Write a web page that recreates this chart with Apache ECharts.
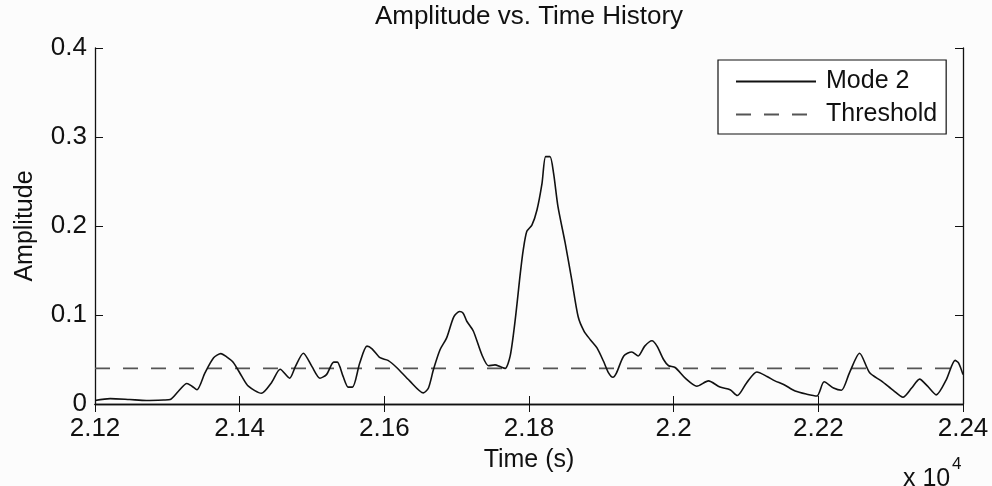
<!DOCTYPE html>
<html>
<head>
<meta charset="utf-8">
<script src="https://cdn.jsdelivr.net/npm/echarts@6/dist/echarts.min.js"></script>
<style>
  html, body { margin: 0; padding: 0; background: #fcfcfc; }
  #chart { width: 992px; height: 486px; }
</style>
</head>
<body>
<div id="chart"></div>
<script>
// ---- data (time in seconds, amplitude) ----
const timeSec = [
  21200, 21221, 21248, 21271, 21295, 21304, 21315, 21327, 21334, 21341,
  21352, 21364, 21374, 21382, 21391, 21403, 21412, 21430, 21444, 21456,
  21469, 21477, 21488, 21500, 21511, 21520, 21530, 21535, 21543, 21550,
  21556, 21566, 21576, 21583, 21594, 21605, 21617, 21635, 21654, 21661,
  21668, 21677, 21686, 21696, 21704, 21709, 21714, 21723, 21735, 21744,
  21753, 21760, 21767, 21774, 21781, 21788, 21792, 21797, 21804, 21811,
  21818, 21823, 21829, 21834, 21840, 21850, 21859, 21868, 21876, 21885,
  21894, 21903, 21910, 21916, 21921, 21931, 21942, 21951, 21960, 21970,
  21977, 21986, 21993, 22002, 22016, 22032, 22048, 22064, 22078, 22088,
  22101, 22115, 22129, 22140, 22152, 22168, 22184, 22198, 22208, 22221,
  22232, 22243, 22257, 22271, 22287, 22304, 22317, 22329, 22340, 22351,
  22363, 22377, 22389, 22394, 22400
];
const mode2 = [
  0.004, 0.006, 0.005, 0.004, 0.0045, 0.005, 0.014, 0.023, 0.020, 0.016,
  0.035, 0.052, 0.0566, 0.053, 0.047, 0.031, 0.020, 0.012, 0.024, 0.039,
  0.029, 0.042, 0.057, 0.042, 0.029, 0.033, 0.047, 0.047, 0.031, 0.019,
  0.019, 0.046, 0.065, 0.062, 0.052, 0.049, 0.041, 0.026, 0.0125, 0.018,
  0.039, 0.061, 0.074, 0.098, 0.104, 0.102, 0.093, 0.082, 0.055, 0.043,
  0.044, 0.042, 0.040, 0.054, 0.095, 0.147, 0.173, 0.194, 0.201, 0.218,
  0.248, 0.278, 0.278, 0.259, 0.222, 0.181, 0.140, 0.098, 0.082, 0.072,
  0.063, 0.048, 0.035, 0.030, 0.035, 0.054, 0.0585, 0.054, 0.065, 0.071,
  0.065, 0.050, 0.043, 0.041, 0.029, 0.020, 0.026, 0.019, 0.016, 0.0095,
  0.024, 0.036, 0.031, 0.026, 0.022, 0.0145, 0.011, 0.009, 0.025, 0.018,
  0.0155, 0.035, 0.057, 0.035, 0.026, 0.015, 0.0076, 0.018, 0.028, 0.020,
  0.0103, 0.0275, 0.049, 0.046, 0.033
];
const thresholdTime = [21200, 22400];
const thresholdValue = [0.04, 0.04];
const xTickLabels = ['2.12', '2.14', '2.16', '2.18', '2.2', '2.22', '2.24'];
const yTickLabels = ['0', '0.1', '0.2', '0.3', '0.4'];

const X_MIN = 21200, X_MAX = 22400, X_STEP = 200;
const Y_MIN = 0, Y_MAX = 0.4, Y_STEP = 0.1;

const FONT = 'Liberation Sans';
const INK = '#111';

const chart = echarts.init(document.getElementById('chart'), null, { renderer: 'canvas' });

function xLabel(v) {
  const i = Math.round((v - X_MIN) / X_STEP);
  return xTickLabels[i] !== undefined ? xTickLabels[i] : '';
}
function yLabel(v) {
  const i = Math.round((v - Y_MIN) / Y_STEP);
  return yTickLabels[i] !== undefined ? yTickLabels[i] : '';
}

const axisLineStyle = { color: INK, width: 1.3 };
const tickCfg = { show: true, inside: true, length: 8, lineStyle: { color: INK, width: 1 } };

const option = {
  backgroundColor: '#fcfcfc',
  animation: false,
  textStyle: { fontFamily: FONT, color: INK },
  title: {
    text: 'Amplitude vs. Time History',
    left: 529,
    top: 4,
    padding: 0,
    textAlign: 'center',
    textStyle: { fontFamily: FONT, fontSize: 26, fontWeight: 'normal', color: INK }
  },
  grid: { left: 95, right: 29, top: 48, bottom: 82, containLabel: false },
  legend: {
    orient: 'vertical',
    left: 718,
    top: 60,
    padding: [9, 9, 7, 17],
    itemWidth: 80,
    itemHeight: 25,
    itemGap: 8,
    borderColor: INK,
    borderWidth: 1.2,
    backgroundColor: '#fff',
    itemStyle: { color: 'rgba(0,0,0,0)', borderWidth: 0, opacity: 0 },
    textStyle: { fontFamily: FONT, fontSize: 25, color: INK, padding: [0, 0, 0, 5] },
    data: ['Mode 2', 'Threshold']
  },
  xAxis: [
    {
      type: 'value',
      min: X_MIN, max: X_MAX, interval: X_STEP,
      position: 'bottom',
      name: 'Time (s)',
      nameLocation: 'middle',
      nameGap: 44,
      nameTextStyle: { fontFamily: FONT, fontSize: 25, color: INK },
      axisLine: { show: true, lineStyle: axisLineStyle },
      axisTick: tickCfg,
      axisLabel: { show: true, margin: 12, fontFamily: FONT, fontSize: 26, color: INK,
                   showMinLabel: true, showMaxLabel: true, formatter: xLabel },
      splitLine: { show: false }
    },
    {
      type: 'value',
      min: X_MIN, max: X_MAX, interval: X_STEP,
      position: 'top',
      axisLine: { show: true, lineStyle: axisLineStyle },
      axisTick: tickCfg,
      axisLabel: { show: false },
      splitLine: { show: false }
    }
  ],
  yAxis: [
    {
      type: 'value',
      min: Y_MIN, max: Y_MAX, interval: Y_STEP,
      position: 'left',
      name: 'Amplitude',
      nameLocation: 'middle',
      nameGap: 57,
      nameTextStyle: { fontFamily: FONT, fontSize: 25, color: INK },
      axisLine: { show: true, lineStyle: axisLineStyle },
      axisTick: tickCfg,
      axisLabel: { show: true, margin: 8, fontFamily: FONT, fontSize: 26, color: INK,
                   showMinLabel: true, showMaxLabel: true, formatter: yLabel },
      splitLine: { show: false }
    },
    {
      type: 'value',
      min: Y_MIN, max: Y_MAX, interval: Y_STEP,
      position: 'right',
      axisLine: { show: true, lineStyle: axisLineStyle },
      axisTick: tickCfg,
      axisLabel: { show: false },
      splitLine: { show: false }
    }
  ],
  series: [
    {
      name: 'Mode 2',
      type: 'line',
      xAxisIndex: 0, yAxisIndex: 0,
      data: timeSec.map((t, i) => [t, mode2[i]]),
      symbol: 'none',
      smooth: 0.25,
      lineStyle: { color: INK, width: 1.6 },
      itemStyle: { color: INK },
      z: 3
    },
    {
      name: 'Threshold',
      type: 'line',
      xAxisIndex: 0, yAxisIndex: 0,
      data: thresholdTime.map((t, i) => [t, thresholdValue[i]]),
      symbol: 'none',
      lineStyle: { color: '#555', width: 1.6, type: [15, 13] },
      itemStyle: { color: '#555' },
      z: 2
    }
  ],
  graphic: [
    {
      type: 'text',
      x: 903, y: 479,
      style: { text: 'x 10', fontFamily: FONT, fontSize: 25, fill: INK,
               align: 'left', verticalAlign: 'middle', textAlign: 'left', textVerticalAlign: 'middle' }
    },
    {
      type: 'text',
      x: 952, y: 464,
      style: { text: '4', fontFamily: FONT, fontSize: 17, fill: INK,
               align: 'left', verticalAlign: 'middle', textAlign: 'left', textVerticalAlign: 'middle' }
    }
  ]
};

chart.setOption(option);
</script>
</body>
</html>
